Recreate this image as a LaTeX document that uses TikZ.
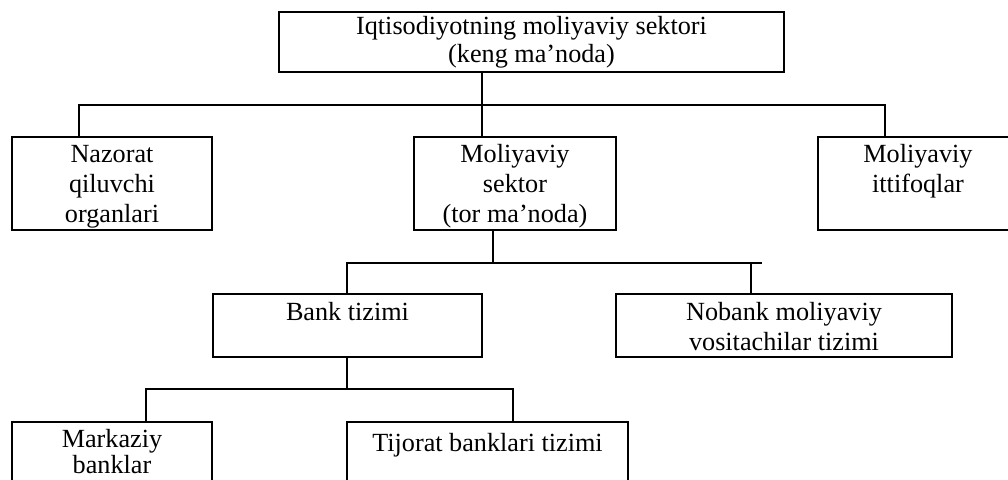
\documentclass[tikz,border=0pt]{standalone}
\usepackage{fontspec}
\setmainfont{Liberation Serif}
\begin{document}
\begin{tikzpicture}[x=0.5pt,y=-0.5pt,
  box/.style={draw, line width=0.75pt, anchor=north west, inner sep=0pt, outer sep=0pt},
  lbl/.style={anchor=north, align=center, inner sep=0pt, font=\fontsize{13.1}{14.9}\selectfont},
  toplbl/.style={anchor=north, align=center, inner sep=0pt, font=\fontsize{13.1}{13.7}\selectfont},
  botlbl/.style={anchor=north, align=center, inner sep=0pt, font=\fontsize{13.1}{13.4}\selectfont},
  conn/.style={line width=0.75pt}]
\useasboundingbox (0,0) rectangle (1008,480);
\clip (0,0) rectangle (1008,480);
% boxes
\node[box, minimum width=252.5pt, minimum height=30pt] (top) at (279,12) {};
\node[box, minimum width=100pt, minimum height=46.5pt] (nazorat) at (12,137) {};
\node[box, minimum width=101pt, minimum height=46.5pt] (molsek) at (414,137) {};
\node[box, minimum width=100pt, minimum height=46.5pt] (ittif) at (818,137) {};
\node[box, minimum width=134.5pt, minimum height=31.5pt] (bank) at (213,294) {};
\node[box, minimum width=168pt, minimum height=31.5pt] (nobank) at (616,294) {};
\node[box, minimum width=100pt, minimum height=50pt] (markaziy) at (12,422) {};
\node[box, minimum width=140.5pt, minimum height=50pt] (tijorat) at (347,422) {};
% texts
\node[toplbl, yshift=-1.7pt] (ttop) at (top.north) {\strut Iqtisodiyotning moliyaviy sektori\\(keng ma’noda)};
\node[lbl, yshift=-2.1pt] (tnaz) at (nazorat.north) {\strut Nazorat\\qiluvchi\\organlari};
\node[lbl, yshift=-2.1pt] (tmol) at (molsek.north) {\strut Moliyaviy\\sektor\\(tor ma’noda)};
\node[lbl, yshift=-2.1pt] (titt) at (ittif.north) {\strut Moliyaviy\\ittifoqlar};
\node[lbl, yshift=-2.7pt] (tbank) at (bank.north) {\strut Bank tizimi};
\node[lbl, yshift=-2.7pt] (tnob) at (nobank.north) {\strut Nobank moliyaviy\\vositachilar tizimi};
\node[botlbl, yshift=-3pt] (tmar) at (markaziy.north) {\strut Markaziy\\banklar};
\node[lbl, yshift=-4pt] (ttij) at (tijorat.north) {\strut Tijorat banklari tizimi};
% junction coordinates
\coordinate (j1) at (482,105);
\coordinate (h1L) at (79,105);
\coordinate (h1R) at (885,105);
\coordinate (j2) at (493,263);
\coordinate (h2L) at (347,263);
\coordinate (h2R) at (762,263);
\coordinate (v2R) at (751,263);
\coordinate (j3) at (347,389);
\coordinate (h3L) at (146,389);
\coordinate (h3R) at (513,389);
% connectors
\draw[conn] (top.south -| j1) -- (molsek.north -| j1);
\draw[conn] (nazorat.north -| h1L) |- (h1R) -- (ittif.north -| h1R);
\draw[conn] (molsek.south -| j2) -- (j2);
\draw[conn] (bank.north -| h2L) -- (h2L) -- (h2R);
\draw[conn] (v2R) -- (nobank.north -| v2R);
\draw[conn] (bank.south -| j3) -- (j3);
\draw[conn] (markaziy.north -| h3L) |- (h3R) -- (tijorat.north -| h3R);
\end{tikzpicture}
\end{document}
